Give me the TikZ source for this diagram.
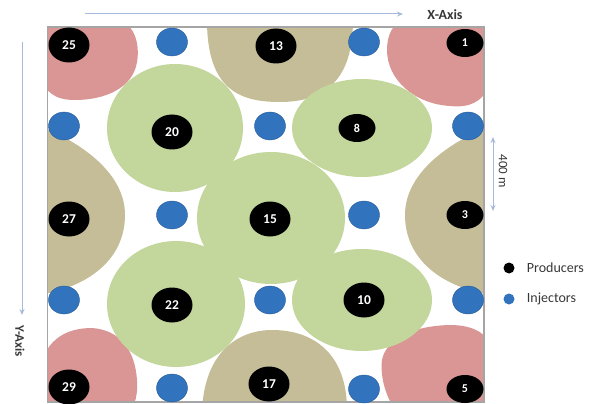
\documentclass[tikz,border=0pt]{standalone}
\usepackage{fontspec}
\setmainfont{Carlito}
\usetikzlibrary{arrows.meta,positioning,calc,shapes.geometric}
\definecolor{zonegreen}{RGB}{195,214,155}
\definecolor{zonetan}{RGB}{196,189,151}
\definecolor{zonepink}{RGB}{218,150,148}
\definecolor{injblue}{RGB}{50,115,190}
\definecolor{axisblue}{RGB}{165,185,218}
\definecolor{framegray}{RGB}{165,165,165}
\definecolor{labelgray}{RGB}{55,55,55}

\begin{document}
\begin{tikzpicture}[x=1pt,y=-1pt,
  producer/.style={ellipse,fill=black,text=white,inner sep=0pt,minimum width=41pt,minimum height=35pt,
    font=\fontsize{13.5}{14}\selectfont\bfseries},
  smallprod/.style={producer,minimum width=37pt,minimum height=28pt,font=\fontsize{12}{12}\selectfont\bfseries},
  injector/.style={ellipse,fill=injblue,draw=injblue!80!black,line width=0.4pt,inner sep=0pt,minimum width=31pt,minimum height=28pt},
  axisarrow/.style={axisblue,line width=1pt,-{Stealth[open,length=6pt,width=5pt]}},
  legendtext/.style={text=labelgray,inner sep=0pt,font=\fontsize{14}{14}\selectfont}]
  \useasboundingbox (0,0) rectangle (598,404);
  % drainage zones
  \begin{scope}
    \clip (47.5,27) rectangle (484,402);
    \fill[zonepink] (40,20) -- (118,20) .. controls (135,24) and (140,45) .. (137,62)
      .. controls (133,88) and (105,100) .. (75,100) .. controls (52,100) and (47,90) .. (40,80) -- cycle;
    \fill[zonepink] (400,20) -- (490,20) -- (490,85) .. controls (482,102) and (470,108) .. (450,106)
      .. controls (415,104) and (387,80) .. (387,50) .. controls (387,35) and (393,22) .. (405,20) -- cycle;
    \fill[zonepink] (40,410) -- (40,365) .. controls (48,340) and (65,328) .. (92,328)
      .. controls (120,330) and (135,350) .. (137,380) .. controls (138,395) and (135,405) .. (130,410) -- cycle;
    \fill[zonepink] (395,410) .. controls (385,395) and (380,375) .. (382,360)
      .. controls (386,340) and (410,326) .. (450,325) .. controls (475,325) and (490,335) .. (490,350) -- (490,410) -- cycle;
    \fill[zonetan] (207,20) .. controls (207,90) and (240,102) .. (280,102)
      .. controls (325,102) and (353,80) .. (353,20) -- cycle;
    \fill[zonetan] (202,410) .. controls (205,350) and (240,330) .. (272,330)
      .. controls (315,330) and (347,355) .. (347,410) -- cycle;
    \fill[zonetan] (40,126) .. controls (75,140) and (125,170) .. (125,215)
      .. controls (125,255) and (95,285) .. (40,295) -- cycle;
    \fill[zonetan] (490,126) .. controls (455,140) and (405,170) .. (405,215)
      .. controls (405,255) and (435,285) .. (490,295) -- cycle;
    \foreach \x/\y/\rx/\ry in {175/128/68/64,362/128/70/49,271/218/74/66,176/304/69/63,362/300/70/51}
      \fill[zonegreen] (\x,\y) ellipse [x radius=\rx pt,y radius=\ry pt];
  \end{scope}
  \draw[framegray,line width=1.2pt] (47.5,27) rectangle (484,402);
  % injectors
  \foreach \n/\x/\y in {1/172/42,2/364/42,3/64/126,4/270/126,5/468/126,6/172/215,7/364/215,
    8/64/300,9/270/300,10/468/300,11/172/388,12/364/389}
    \node[injector] (i\n) at (\x,\y) {};
  % producers
  \foreach \n/\x/\y in {25/69/45,13/276/46,20/172/132,27/69/219,15/270/219,22/172/305,10/364/300,29/69/387,17/269/384}
    \node[producer] (p\n) at (\x,\y) {\n};
  \foreach \n/\x/\y in {1/465/43,8/357/128,3/465/215,5/465/389}
    \node[smallprod] (p\n) at (\x,\y) {\n};
  % axes and spacing
  \coordinate (xs) at (85,14); \coordinate (xe) at (403,14);
  \draw[axisarrow] (xs) -- (xe);
  \node[font=\fontsize{14}{14}\selectfont\bfseries,text=labelgray] (xlab) at (445,15) {X-Axis};
  \coordinate (ys) at (22,42); \coordinate (ye) at (22,315);
  \draw[axisarrow] (ys) -- (ye);
  \node[rotate=-90,font=\fontsize{13}{13}\selectfont\bfseries,text=labelgray] (ylab) at (20,341) {Y-Axis};
  \coordinate (ms) at (493,137); \coordinate (me) at (493,211);
  \draw[axisarrow,{Stealth[open,length=6pt,width=5pt]}-{Stealth[open,length=6pt,width=5pt]}] (ms) -- (me);
  \node[rotate=-90,font=\fontsize{13}{13}\selectfont,text=labelgray] (mlab) at (503,171) {400 m};
  % legend
  \node[circle,fill=black,minimum size=11pt,inner sep=0pt] (lp) at (509,268) {};
  \node[legendtext,right=12pt of lp] (lpt) {Producers};
  \node[circle,fill=injblue,minimum size=11pt,inner sep=0pt] (li) at (509,299) {};
  \node[legendtext,right=12pt of li] (lit) {Injectors};
\end{tikzpicture}
\end{document}
